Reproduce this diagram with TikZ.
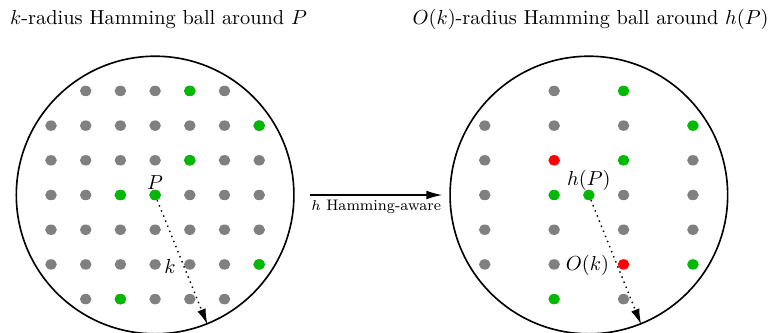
\documentclass[tikz,border=0pt]{standalone}
\usetikzlibrary{arrows.meta, shapes.geometric}
\definecolor{ptgray}{RGB}{128,128,128}
\definecolor{ptgreen}{RGB}{0,185,0}
\definecolor{ptred}{RGB}{255,0,0}
\tikzset{
  ball/.style={circle, draw, line width=0.8pt, minimum size=4.8cm, inner sep=0pt},
  pt/.style={ellipse, fill=#1, minimum width=0.2cm, minimum height=0.18cm, inner sep=0pt},
  pt/.default=ptgray,
  tip/.style={-{Latex[length=2.7mm,width=1.5mm]}},
  radiusline/.style={dotted, line width=0.7pt, tip},
  title/.style={font=\normalsize}
}
\begin{document}
\begin{tikzpicture}[x=0.6cm, y=0.6cm]
  \useasboundingbox (-4.47,-3.95) rectangle (17.72,5.62);

  % the two balls
  \node[ball] (ballL) at (0,0) {};
  \node[ball] (ballR) at (12.5,0) {};

  % titles
  \node[title] (titleL) at (0.1,5.07) {$k$-radius Hamming ball around $P$};
  \node[title] (titleR) at (12.55,5.07) {$O(k)$-radius Hamming ball around $h(P)$};

  % radius arrows (drawn first so the centre points cover them)
  \coordinate (cL) at (0,0);
  \coordinate (cR) at (12.5,0);
  \draw[radiusline] (cL) -- (ballL.-68);
  \draw[radiusline] (cR) -- (ballR.-68);

  % left ball: 7x7 grid without the corners
  \foreach \y in {3,...,-3} {
    \foreach \x in {-3,...,3} {
      \pgfmathtruncatemacro{\ax}{abs(\x)}
      \pgfmathtruncatemacro{\ay}{abs(\y)}
      \ifnum\ax=3 \ifnum\ay=3 \else
        \node[pt] (L\x\y) at (\x,\y) {};
      \fi \else
        \node[pt] (L\x\y) at (\x,\y) {};
      \fi
    }
  }
  % left ball: highlighted points
  \node[pt=ptgreen] (Lg1) at (1,3) {};
  \node[pt=ptgreen] (Lg2) at (3,2) {};
  \node[pt=ptgreen] (Lg3) at (1,1) {};
  \node[pt=ptgreen] (Lg4) at (-1,0) {};
  \node[pt=ptgreen] (P) at (0,0) {};
  \node[pt=ptgreen] (Lg5) at (3,-2) {};
  \node[pt=ptgreen] (Lg6) at (-1,-3) {};

  % right ball: every other column, offsets from its centre
  \foreach \x/\y/\c [count=\i] in {
      -1/3/ptgray, 1/3/ptgreen,
      -3/2/ptgray, -1/2/ptgray, 1/2/ptgray, 3/2/ptgreen,
      -3/1/ptgray, -1/1/ptred, 1/1/ptgreen, 3/1/ptgray,
      -3/0/ptgray, -1/0/ptgreen, 1/0/ptgray, 3/0/ptgray,
      -3/-1/ptgray, -1/-1/ptgray, 1/-1/ptgray, 3/-1/ptgray,
      -3/-2/ptgray, -1/-2/ptgray, 1/-2/ptred, 3/-2/ptgreen,
      -1/-3/ptgreen, 1/-3/ptgray} {
    \node[pt=\c] (R\i) at ({12.5+\x},\y) {};
  }
  \node[pt=ptgreen] (hP) at (12.5,0) {};

  % labels
  \node (labP) at (0,0.36) {$P$};
  \node (labhP) at (12.5,0.43) {$h(P)$};
  \node (labk) at (0.43,-2.05) {$k$};
  \node (labOk) at (12.46,-2.02) {$O(k)$};

  % the map between the balls
  \coordinate (mapS) at (4.47,0);
  \coordinate (mapE) at (8.27,0);
  \draw[tip, line width=0.6pt] (mapS) -- (mapE)
    node[midway, below, font=\fontsize{7.5}{9}\selectfont, yshift=1pt] (maplab) {$h$ Hamming-aware};
\end{tikzpicture}
\end{document}
